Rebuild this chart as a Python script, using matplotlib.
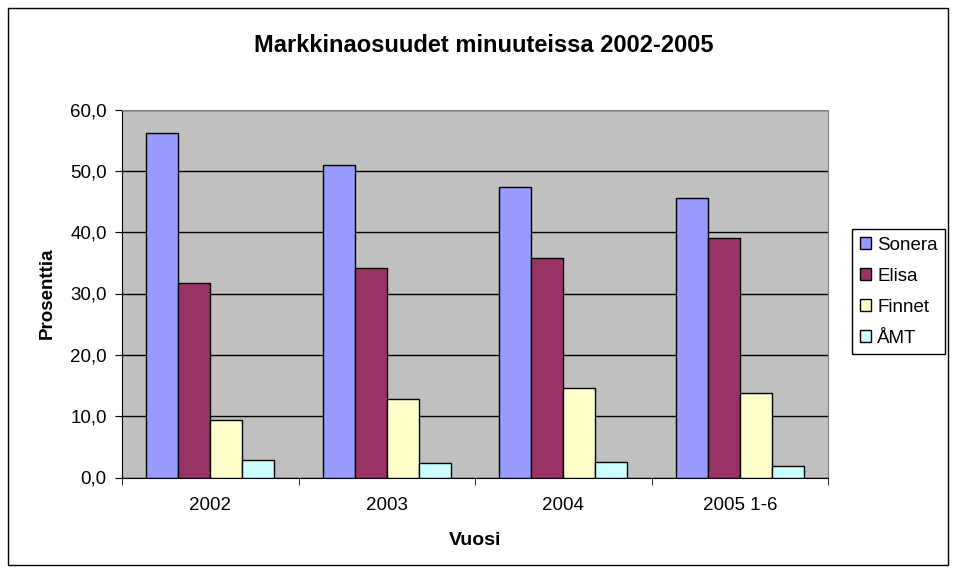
import matplotlib.pyplot as plt
import numpy as np
from matplotlib.patches import Rectangle

years = ["2002", "2003", "2004", "2005 1-6"]
series = ["Sonera", "Elisa", "Finnet", "ÅMT"]
sonera = [56.1, 51.0, 47.3, 45.5]
elisa = [31.7, 34.1, 35.8, 39.1]
finnet = [9.3, 12.8, 14.6, 13.8]
amt = [2.9, 2.4, 2.6, 1.9]
colors = ["#9999FF", "#993366", "#FFFFCC", "#CCFFFF"]

plt.rcParams["font.family"] = ["Liberation Sans", "DejaVu Sans"]

fig = plt.figure(figsize=(9.57, 5.73), dpi=100)
fig.patches.append(Rectangle((8 / 957, 8 / 573), 940 / 957, 557 / 573, transform=fig.transFigure,
                             fill=False, edgecolor="black", linewidth=1))

ax = fig.add_axes([122 / 957, 95.5 / 573, 706 / 957, 368 / 573])
ax.set_facecolor("#C0C0C0")

x = np.arange(len(years))
w = 1 / 5.5
for i, (name, vals) in enumerate(zip(series, [sonera, elisa, finnet, amt])):
    ax.bar(x - 1.5 * w + i * w, vals, width=w, color=colors[i], edgecolor="black",
           linewidth=1, label=name, zorder=3)

ax.set_xlim(-0.5, 3.5)
ax.set_ylim(0, 60)
ax.set_yticks(np.arange(0, 61, 10))
ax.set_yticklabels([f"{v:.1f}".replace(".", ",") for v in np.arange(0, 61, 10)], fontsize=13.5)
ax.set_xticks(x)
ax.set_xticklabels(years, fontsize=13.5)
ax.tick_params(axis="x", which="major", length=0, pad=14)
ax.set_xticks(np.arange(-0.5, 4.0, 1), minor=True)
ax.tick_params(axis="x", which="minor", length=5, direction="out")
ax.tick_params(axis="y", length=5, direction="out", pad=6)
ax.grid(True, axis="y", color="black", linewidth=1, zorder=0)

for side in ["top", "right"]:
    ax.spines[side].set_color("#808080")
for side in ["left", "bottom"]:
    ax.spines[side].set_color("black")

ax.set_xlabel("Vuosi", fontsize=14, fontweight="bold", labelpad=13)
ax.set_ylabel("Prosenttia", fontsize=13.5, fontweight="bold", labelpad=10)

fig.text(0.505, 1 - 45 / 573, "Markkinaosuudet minuuteissa 2002-2005", ha="center", va="center",
         fontsize=17, fontweight="bold")

leg = ax.legend(loc="upper left", bbox_to_anchor=(852 / 957, 1 - 229 / 573), bbox_transform=fig.transFigure,
                fontsize=13.5, frameon=True, fancybox=False, edgecolor="black", framealpha=1,
                handlelength=0.6, handleheight=0.6, handletextpad=0.35, labelspacing=0.75,
                borderpad=0.4, borderaxespad=0)
leg.get_frame().set_linewidth(1)

fig.savefig("out.png", dpi=100)
